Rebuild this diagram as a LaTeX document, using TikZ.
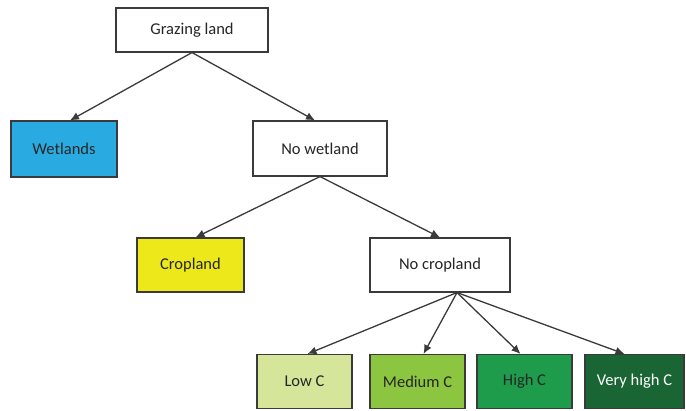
\documentclass[tikz,border=0pt]{standalone}
\usepackage{fontspec}
\setmainfont{Carlito}
\usetikzlibrary{arrows.meta,positioning}
\definecolor{TreeLine}{HTML}{3A3A3A}
\definecolor{WetBlue}{HTML}{29ABE2}
\definecolor{CropYellow}{HTML}{EDE81A}
\definecolor{LowGreen}{HTML}{D5E69A}
\definecolor{MedGreen}{HTML}{8CC540}
\definecolor{HighGreen}{HTML}{1E9C4B}
\definecolor{VHighGreen}{HTML}{1A6534}

\begin{document}
\begin{tikzpicture}[x=1pt,y=1pt,>=Latex]
\tikzset{
  box/.style={draw=TreeLine,line width=1.1pt,minimum height=54pt,align=center,
              text=black!85,fill=white,font=\fontsize{16.5}{19}\selectfont},
  leaf/.style={box,minimum width=95pt},
  split/.style={TreeLine,line width=1.3pt,-{Latex[length=9pt,width=8pt]}}
}
\useasboundingbox (0,0) rectangle (686,410);

% ---------- root and first split ----------------------------------------
\node[box,minimum width=152pt,minimum height=44pt] (graze) at (192,380) {Grazing land};
\node[box,minimum width=106pt,minimum height=56pt,fill=WetBlue] (wet) at (64,261) {Wetlands};
\node[box,minimum width=134pt,minimum height=55pt] (nowet) at (320,261.5) {No wetland};

% ---------- second split -------------------------------------------------
\node[box,minimum width=107pt,fill=CropYellow] (crop) at (190.5,145) {Cropland};
\node[box,minimum width=140pt] (nocrop) at (440,145) {No cropland};

% ---------- carbon classes -----------------------------------------------
\node[leaf,fill=LowGreen] (low) at (304.5,28.5) {Low C};
\node[leaf,fill=MedGreen] (med) at (417.5,28.5) {Medium C};
\node[leaf,fill=HighGreen] (high) at (524.5,28.5) {High C};
\node[leaf,minimum width=99pt,fill=VHighGreen,text=white] (vhigh) at (634.5,28.5) {Very high C};

\draw[split] (graze.south) -- ([xshift=6pt]wet.north);
\draw[split] (graze.south) -- ([xshift=-5pt]nowet.north);
\draw[split] (nowet.south) -- ([xshift=5pt]crop.north);
\draw[split] (nowet.south) -- (nocrop.north);

\coordinate (fan) at ([xshift=17pt]nocrop.south);
\foreach \leafname/\dx in {low/3,med/6,high/-4,vhigh/-10}
  \draw[split] (fan) -- ([xshift=\dx pt]\leafname.north);
\end{tikzpicture}
\end{document}
